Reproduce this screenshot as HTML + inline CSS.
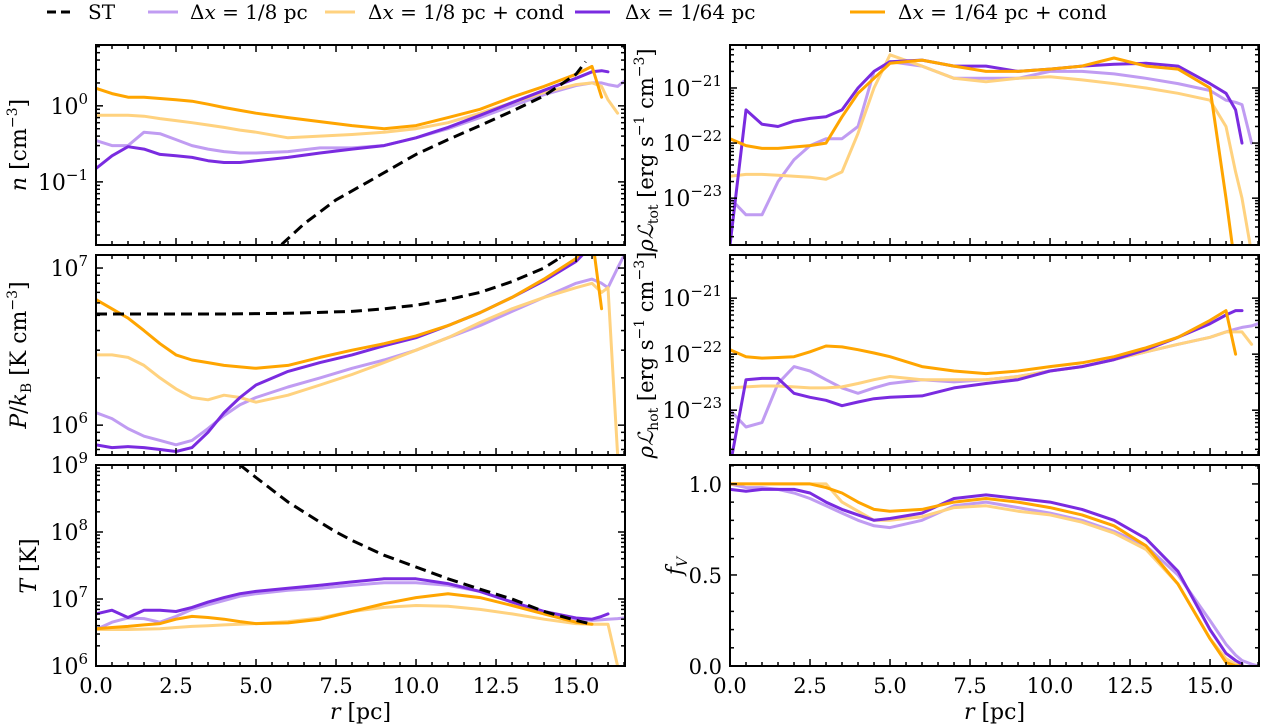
<!DOCTYPE html>
<html><head><meta charset="utf-8"><style>
html,body{margin:0;padding:0;background:#fff;}
svg{display:block;font-family:"DejaVu Serif","Liberation Serif",serif;}
</style></head><body>
<svg id="fig" width="1262" height="728" viewBox="0 0 1262 728" xmlns="http://www.w3.org/2000/svg">
<g font-size="20">
 <g><line x1="47" y1="12" x2="72" y2="12" stroke="#000" stroke-width="3" stroke-dasharray="9,5"/><text x="88" y="19">ST</text></g>
 <g><line x1="148" y1="12" x2="178" y2="12" stroke="#c09cf2" stroke-width="3"/><text x="190" y="19">Δ<tspan font-style="italic">x</tspan> = 1/8 pc</text></g>
 <g><line x1="325" y1="12" x2="355" y2="12" stroke="#ffd27f" stroke-width="3"/><text x="368" y="19">Δ<tspan font-style="italic">x</tspan> = 1/8 pc + cond</text></g>
 <g><line x1="575" y1="12" x2="610" y2="12" stroke="#7a2be0" stroke-width="3"/><text x="625" y="19">Δ<tspan font-style="italic">x</tspan> = 1/64 pc</text></g>
 <g><line x1="850" y1="12" x2="885" y2="12" stroke="#ffa500" stroke-width="3"/><text x="898" y="19">Δ<tspan font-style="italic">x</tspan> = 1/64 pc + cond</text></g>
</g>
</svg>
<script>
const R = [0,0.5,1,1.5,2,2.5,3,3.5,4,4.5,5,6,7,8,9,10,11,12,13,14,15,15.5,15.8,16,16.3,16.5];
// density n [cm^-3]
const nOrange = [1.7,1.45,1.3,1.3,1.25,1.2,1.15,1.05,0.95,0.87,0.8,0.7,0.62,0.55,0.5,0.55,0.7,0.9,1.3,1.8,2.6,3.3,1.3,null,null,null];
const nLightOrange = [0.75,0.75,0.75,0.73,0.68,0.64,0.6,0.56,0.52,0.48,0.45,0.38,0.4,0.42,0.45,0.5,0.6,0.8,1.1,1.5,1.9,2.0,1.8,1.2,0.8,null];
const nLightPurple = [0.35,0.3,0.3,0.45,0.43,0.36,0.3,0.27,0.25,0.24,0.24,0.25,0.28,0.28,0.3,0.38,0.5,0.7,1.0,1.4,1.85,2.0,2.0,1.9,1.8,2.1];
const nPurple = [0.15,0.22,0.29,0.27,0.23,0.22,0.21,0.19,0.18,0.18,0.19,0.21,0.24,0.27,0.3,0.38,0.52,0.75,1.1,1.6,2.3,2.8,2.9,2.8,null,null];
const nStR = [5.8,6.5,7.5,8.5,10,11,12,13,14,15,15.3];
const nSt = [0.015,0.028,0.058,0.1,0.23,0.36,0.55,0.85,1.35,2.6,3.8];
// pressure P/kB [1e6 K cm^-3]
const pOrange = [6.3,5.5,4.8,4.0,3.3,2.8,2.6,2.5,2.4,2.35,2.3,2.4,2.7,3.0,3.3,3.7,4.3,5.2,6.5,8.5,11.5,16,5.5,null,null,null];
const pLightOrange = [2.8,2.8,2.7,2.4,2.0,1.7,1.5,1.45,1.55,1.5,1.4,1.55,1.8,2.1,2.5,3.0,3.6,4.5,5.5,6.5,7.5,8,7,7.5,0.65,null];
const pLightPurple = [1.2,1.1,0.95,0.85,0.8,0.75,0.8,0.95,1.15,1.35,1.5,1.75,2.0,2.3,2.6,3.0,3.6,4.3,5.3,6.5,8,8.5,8,7.5,10,12];
const pPurple = [0.75,0.72,0.73,0.72,0.7,0.68,0.72,0.9,1.2,1.5,1.8,2.2,2.5,2.8,3.2,3.6,4.3,5.2,6.5,8.3,11,14,15,16,null,null];
const pStR = [0,2,4,6,8,9,10,11,12,13,14,15,15.3];
const pSt = [5.1,5.1,5.1,5.15,5.3,5.5,5.8,6.3,7.0,8.2,10,13.5,16.5];
// temperature T [1e6 K]
const tOrange = [3.6,3.75,3.9,4.1,4.3,5,5.5,5.3,5,4.6,4.3,4.4,5,6.5,8.5,10.5,12,10.5,8,6,4.5,4.2,null,null,null,null];
const tLightOrange = [3.5,3.5,3.5,3.55,3.6,3.75,3.9,4,4.1,4.2,4.3,4.6,5.2,6.5,7.5,8,7.8,7,6,5,4.3,4.2,4.2,4.2,1.0,null];
const tLightPurple = [3.5,4.5,5.2,5.1,4.5,5.5,7,8.2,9.5,11,12,13.5,14.5,16,17.5,17.5,16,13,9,6.5,5,4.8,4.9,5,5.1,5.2];
const tPurple = [6,6.8,5.3,6.8,6.8,6.5,7.5,9,10.5,12,13,14.5,16,18,20,20,17,13,9,6.5,5.2,5,5.5,6,null,null];
const tStR = [4.5,5,6,7,7.5,8,9,10,11,12,13,14,15,15.5];
const tSt = [1000,650,280,140,100,75,45,30,20,14,10,6.5,4.8,4.2];
// total emissivity [1e-22 erg s^-1 cm^-3]
const totOrange = [1.2,0.9,0.8,0.8,0.85,0.9,1.0,3,8,15,28,32,25,20,20,22,25,35,25,22,10,0.1,0.005,null,null,null];
const totLightOrange = [0.25,0.27,0.27,0.26,0.25,0.24,0.22,0.3,1.5,10,40,25,15,13,15,16,14,12,10,8,6,2,0.3,0.1,0.01,null];
const totLightPurple = [0.1,0.05,0.05,0.2,0.5,0.9,1.2,1.2,2,20,30,25,15,15,15,20,20,18,15,12,9,6,5.5,5,1,null];
const totPurple = [0.014,4,2.2,2,2.5,2.8,3,4,10,20,30,32,25,25,20,22,25,27,28,25,12,8,4,1,null,null];
// hot emissivity [1e-22 erg s^-1 cm^-3]
const hotOrange = [1.2,0.9,0.85,0.87,0.9,1.1,1.4,1.35,1.2,1.05,0.9,0.6,0.5,0.45,0.5,0.6,0.7,0.9,1.3,2,4,6,1,null,null,null];
const hotLightOrange = [0.25,0.26,0.27,0.27,0.26,0.25,0.25,0.26,0.3,0.35,0.4,0.35,0.35,0.35,0.4,0.5,0.6,0.8,1.1,1.5,2,2.5,2.5,2.5,1.5,null];
const hotLightPurple = [0.1,0.05,0.06,0.3,0.6,0.5,0.35,0.25,0.2,0.25,0.3,0.35,0.32,0.35,0.4,0.5,0.6,0.8,1.1,1.5,2,2.5,2.8,3,3.2,3.5];
const hotPurple = [0.01,0.35,0.37,0.37,0.2,0.17,0.15,0.12,0.14,0.16,0.17,0.18,0.25,0.3,0.35,0.5,0.6,0.8,1.2,2,3.5,5,6,6,null,null];
// volume filling fraction
const fOrange = [1,1,1,1,1,1,0.98,0.95,0.9,0.86,0.85,0.86,0.9,0.92,0.9,0.87,0.83,0.77,0.66,0.45,0.15,0.02,0,0,null,null];
const fLightOrange = [1,1,1,1,1,1,1,0.9,0.85,0.8,0.8,0.82,0.87,0.88,0.85,0.83,0.79,0.73,0.64,0.45,0.15,0.04,0.01,0,null,null];
const fLightPurple = [1,0.98,0.98,0.97,0.95,0.92,0.88,0.84,0.8,0.77,0.76,0.8,0.88,0.9,0.87,0.84,0.8,0.74,0.66,0.5,0.25,0.12,0.06,0.03,0.01,0];
const fPurple = [0.97,0.96,0.97,0.97,0.97,0.95,0.9,0.86,0.83,0.8,0.81,0.84,0.92,0.94,0.92,0.9,0.86,0.8,0.7,0.52,0.2,0.07,0.03,0.01,null,null];
const xTicks = [0,2.5,5,7.5,10,12.5,15];
const xTickLabels = ["0.0","2.5","5.0","7.5","10.0","12.5","15.0"];

const NS="http://www.w3.org/2000/svg";
const svg=document.getElementById('fig');
const C={lp:"#c09cf2",lo:"#ffd27f",p:"#7a2be0",o:"#ffa500"};
function mk(t,a,parent){const e=document.createElementNS(NS,t);for(const k in a)e.setAttribute(k,a[k]);(parent||svg).appendChild(e);return e;}

const XMAX=16.53;
const panels=[
 {id:'n',x0:96,y0:45,y1:245,log:true,ymin:-1.83,ymax:0.80,scale:1,
  series:[[nLightPurple,'lp'],[nLightOrange,'lo'],[nPurple,'p'],[nOrange,'o']],st:[nStR,nSt],labels:[-1,0],xlab:false},
 {id:'p',x0:96,y0:255,y1:455,log:true,ymin:5.81,ymax:7.083,scale:1e6,
  series:[[pLightPurple,'lp'],[pLightOrange,'lo'],[pPurple,'p'],[pOrange,'o']],st:[pStR,pSt],labels:[6,7],xlab:false},
 {id:'t',x0:96,y0:465,y1:666,log:true,ymin:6,ymax:9,scale:1e6,
  series:[[tLightPurple,'lp'],[tLightOrange,'lo'],[tPurple,'p'],[tOrange,'o']],st:[tStR,tSt],labels:[6,7,8,9],xlab:true},
 {id:'tot',x0:730,y0:45,y1:245,log:true,ymin:-23.85,ymax:-20.22,scale:1e-22,
  series:[[totLightPurple,'lp'],[totLightOrange,'lo'],[totPurple,'p'],[totOrange,'o']],labels:[-23,-22,-21],xlab:false},
 {id:'hot',x0:730,y0:255,y1:455,log:true,ymin:-23.8,ymax:-20.23,scale:1e-22,
  series:[[hotLightPurple,'lp'],[hotLightOrange,'lo'],[hotPurple,'p'],[hotOrange,'o']],labels:[-23,-22,-21],xlab:false},
 {id:'fv',x0:730,y0:465,y1:666,log:false,ymin:0,ymax:1.104,scale:1,
  series:[[fLightPurple,'lp'],[fLightOrange,'lo'],[fPurple,'p'],[fOrange,'o']],labels:[0,0.5,1.0],xlab:true}
];
const W=529;
panels.forEach(P=>{
  const g=mk('g',{});
  
  
  const sx=r=>P.x0+r/XMAX*W;
  const sy=v=>{const t=P.log?Math.log10(v*P.scale):v;return P.y1-(t-P.ymin)/(P.ymax-P.ymin)*(P.y1-P.y0);};
  const cid='clip-'+P.id;
  const cp=mk('clipPath',{id:cid},g);mk('rect',{x:P.x0,y:P.y0,width:W,height:P.y1-P.y0},cp);
  const lines=mk('g',{'clip-path':'url(#'+cid+')'},g);
  P.series.forEach(([vals,c])=>{
    let d='',pen=false;
    R.forEach((r,i)=>{const v=vals[i];if(v===null||v===undefined){pen=false;return;}
      const vv=P.log?Math.max(v,1e-30):v;
      d+=(pen?'L':'M')+sx(r).toFixed(1)+' '+sy(vv).toFixed(1);pen=true;});
    const pth=mk('path',{d:d,fill:'none',stroke:C[c],'stroke-width':3,'stroke-linejoin':'round','stroke-linecap':'round'},lines);
    
    
  });
  if(P.st){const [rs,vs]=P.st;let d='';rs.forEach((r,i)=>{d+=(i?'L':'M')+sx(r).toFixed(1)+' '+sy(vs[i]).toFixed(1);});
    const s=mk('path',{d:d,fill:'none',stroke:'#000','stroke-width':3,'stroke-dasharray':'11,6'},lines);
    
    }
  const fr=mk('rect',{x:P.x0,y:P.y0,width:W,height:P.y1-P.y0,fill:'none',stroke:'#000','stroke-width':2},g);
  
  
  for(let r=0;r<=16.5;r+=0.5){const maj=Math.abs(r/2.5-Math.round(r/2.5))<1e-6;const L=maj?7:4;const x=sx(r);
    mk('line',{x1:x,y1:P.y1,x2:x,y2:P.y1-L,stroke:'#000','stroke-width':1.5},g);
    mk('line',{x1:x,y1:P.y0,x2:x,y2:P.y0+L,stroke:'#000','stroke-width':1.5},g);}
  if(P.xlab){xTicks.forEach((r,i)=>{const t=mk('text',{x:sx(r),y:P.y1+27,'font-size':21,'text-anchor':'middle'},g);t.textContent=xTickLabels[i];
      
      });
    const xl=mk('text',{x:P.x0+W/2,y:719,'font-size':22,'text-anchor':'middle'},g);
    xl.innerHTML='<tspan font-style="italic">r</tspan> [pc]';
    
    }
  const yt=(y,L)=>{mk('line',{x1:P.x0,y1:y,x2:P.x0+L,y2:y,stroke:'#000','stroke-width':1.5},g);mk('line',{x1:P.x0+W,y1:y,x2:P.x0+W-L,y2:y,stroke:'#000','stroke-width':1.5},g);};
  if(P.log){for(let d=Math.floor(P.ymin);d<=Math.ceil(P.ymax);d++){for(let m=1;m<10;m++){const t=d+Math.log10(m);if(t<P.ymin||t>P.ymax)continue;const y=P.y1-(t-P.ymin)/(P.ymax-P.ymin)*(P.y1-P.y0);yt(y,m===1?7:4);}}
    P.labels.forEach(d=>{const y=P.y1-(d-P.ymin)/(P.ymax-P.ymin)*(P.y1-P.y0);const t=mk('text',{x:P.x0-8,y:y+8,'font-size':22,'text-anchor':'end'},g);
      t.innerHTML='10<tspan dy="-10" font-size="15">'+(d<0?'−'+(-d):d)+'</tspan>';
      
      });}
  else{for(let k=0;k<=11;k++){const v=k/10;const y=sy(v);yt(y,k%5===0?7:4);}
    P.labels.forEach(v=>{const t=mk('text',{x:P.x0-8,y:sy(v)+8,'font-size':21,'text-anchor':'end'},g);t.textContent=v.toFixed(1);
      
      });}
});
const ytitles=[
 {x:26,y:145,fs:22,h:'<tspan font-style="italic">n</tspan> [cm<tspan dy="-9" font-size="14">−3</tspan><tspan dy="9">]</tspan>',n:'y-axis-title-n'},
 {x:26,y:355,fs:22,h:'<tspan font-style="italic">P</tspan>/<tspan font-style="italic">k</tspan><tspan dy="5" font-size="14">B</tspan><tspan dy="-5"> [K cm</tspan><tspan dy="-9" font-size="14">−3</tspan><tspan dy="9">]</tspan>',n:'y-axis-title-p'},
 {x:36,y:566,fs:22,h:'<tspan font-style="italic">T</tspan> [K]',n:'y-axis-title-t'},
 {x:653,y:150,fs:21,h:'<tspan font-style="italic">ρℒ</tspan><tspan dy="5" font-size="14">tot</tspan><tspan dy="-5"> [erg s</tspan><tspan dy="-9" font-size="14">−1</tspan><tspan dy="9"> cm</tspan><tspan dy="-9" font-size="14">−3</tspan><tspan dy="9">]</tspan>',n:'y-axis-title-tot'},
 {x:653,y:355,fs:21,h:'<tspan font-style="italic">ρℒ</tspan><tspan dy="5" font-size="14">hot</tspan><tspan dy="-5"> [erg s</tspan><tspan dy="-9" font-size="14">−1</tspan><tspan dy="9"> cm</tspan><tspan dy="-9" font-size="14">−3</tspan><tspan dy="9">]</tspan>',n:'y-axis-title-hot'},
 {x:682,y:566,fs:22,h:'<tspan font-style="italic">f</tspan><tspan dy="5" font-size="14" font-style="italic">V</tspan>',n:'y-axis-title-fv'}
];
ytitles.forEach(o=>{const t=mk('text',{x:0,y:0,'font-size':o.fs,'text-anchor':'middle',transform:'translate('+o.x+','+o.y+') rotate(-90)'});t.innerHTML=o.h;
  
  });
</script>
</body></html>
